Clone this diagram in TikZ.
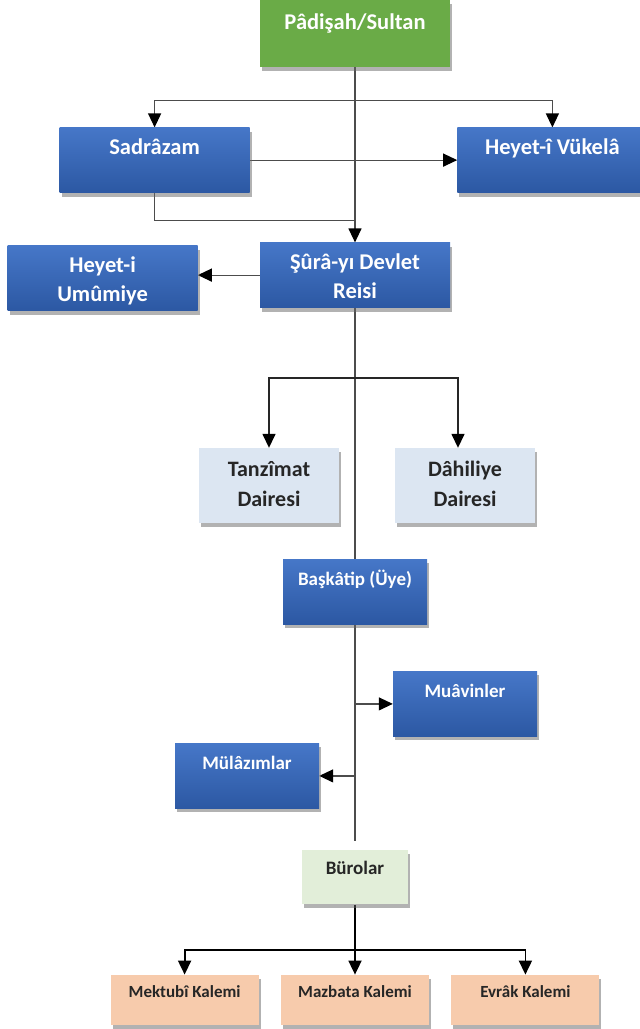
\documentclass[tikz,border=0pt]{standalone}
\usepackage{fontspec}
\setmainfont{Carlito}
\usetikzlibrary{positioning,arrows.meta,shadows,backgrounds}

\definecolor{sultangreen}{HTML}{6AAB47}
\definecolor{boxbluetop}{HTML}{4677C8}
\definecolor{boxbluebot}{HTML}{2C58A3}
\definecolor{dairefill}{HTML}{DCE6F2}
\definecolor{burofill}{HTML}{E2EED9}
\definecolor{kalemfill}{HTML}{F7CBAC}

\begin{document}
\begin{tikzpicture}[%
    x=1pt, y=-1pt,
    >={Triangle[length=14pt,width=13pt,color=black]},
    node distance=60pt,
    box/.style={%
      rectangle,
      inner sep=0pt,
      align=center,
      drop shadow={shadow xshift=2pt,shadow yshift=-4pt,fill=black!60,opacity=.5}
    },
    greenbox/.style={%
      box,
      fill=sultangreen,
      text=white,
      minimum width=190pt,
      text height=29pt,
      text depth=38pt,
      font=\bfseries\fontsize{22.5}{29}\selectfont
    },
    bluebox/.style={%
      box,
      top color=boxbluetop,
      bottom color=boxbluebot,
      text=white,
      minimum width=190pt,
      text height=27pt,
      text depth=38pt,
      font=\bfseries\fontsize{22.5}{29}\selectfont
    },
    bluetwo/.style={%
      bluebox,
      text height=56pt,
      text depth=9pt
    },
    midbox/.style={%
      bluebox,
      minimum width=144pt,
      text height=26pt,
      text depth=39pt,
      font=\bfseries\fontsize{19}{24}\selectfont
    },
    dairebox/.style={%
      box,
      fill=dairefill,
      text=black!85,
      minimum width=140pt,
      text height=58pt,
      text depth=17pt,
      font=\bfseries\fontsize{22}{30}\selectfont
    },
    burobox/.style={%
      box,
      fill=burofill,
      text=black!85,
      minimum width=106pt,
      text height=24pt,
      text depth=30pt,
      font=\bfseries\fontsize{19}{24}\selectfont
    },
    kalembox/.style={%
      box,
      fill=kalemfill,
      text=black!85,
      minimum width=148pt,
      text height=23pt,
      text depth=27pt,
      font=\bfseries\fontsize{17}{20}\selectfont
    },
    link/.style={draw=black!70, line width=1.2pt},
    darklink/.style={draw=black!85, line width=1.5pt},
    boldlink/.style={draw=black, line width=1.8pt}
  ]
    \path[use as bounding box] (0,0) rectangle (640,1029);

    \node[greenbox, anchor=north] (sultan) at (355,0)         {Pâdişah/Sultan};
    \node[bluebox] (sadr)     [below left=60pt and 10pt of sultan]  {Sadrâzam};
    \node[bluebox] (vukela)   [below right=60pt and 7pt of sultan]  {Heyet-î Vükelâ};
    \node[bluetwo] (sura)     [below=175pt of sultan]               {Şûrâ-yı Devlet\\Reisi};
    \node[bluetwo] (umumiye)  [left=62pt of sura, yshift=-3pt]      {Heyet-i\\Umûmiye};
    \node[dairebox] (tanzimat) [below=140pt of sura, xshift=-86pt]  {Tanzîmat\\Dairesi};
    \node[dairebox] (dahiliye) [below=140pt of sura, xshift=110pt]  {Dâhiliye\\Dairesi};
    \node[midbox] (baskatip)  [below=251pt of sura]                 {Başkâtip (Üye)};
    \node[midbox] (muavin)    [below=47pt of baskatip, xshift=110pt]  {Muâvinler};
    \node[midbox] (mulazim)   [below=119pt of baskatip, xshift=-108pt] {Mülâzımlar};
    \node[burobox] (buro)     [below=226pt of baskatip]             {Bürolar};
    \node[kalembox] (mazbata) [below=70pt of buro]                  {Mazbata Kalemi};
    \node[kalembox] (mektubi) [left=22pt of mazbata]                {Mektubî Kalemi};
    \node[kalembox] (evrak)   [right=22pt of mazbata]               {Evrâk Kalemi};

    \coordinate[below=33pt of sultan] (fork1);
    \coordinate[above=22pt of sura] (join1);
    \coordinate[below=70pt of sura] (fork2);
    \coordinate[above=9pt of buro] (spineend);
    \coordinate[below=45pt of buro] (fork3);

    \begin{scope}[on background layer]
      \draw[link,->] (sultan.south) -- (sura.north);
      \draw[link,->] (fork1) -| (sadr.north);
      \draw[link,->] (fork1) -| (vukela.north);
      \draw[link,->] (sadr.east) -- (vukela.west);
      \draw[link] (sadr.south) |- (join1);
      \draw[link,->] (sura.west) -- (sura.west -| umumiye.east);
      \draw[link] (sura.south) -- (spineend);
      \draw[darklink,->] (fork2) -| (tanzimat.north);
      \draw[darklink,->] (fork2) -| ([xshift=-7pt]dahiliye.north);
      \draw[link,->] (muavin.west -| sura.south) -- (muavin.west);
      \draw[link,->] (mulazim.east -| sura.south) -- (mulazim.east);
      \draw[boldlink] (buro.south) -- (fork3);
      \draw[boldlink,->] (fork3) -| (mektubi.north);
      \draw[boldlink,->] (fork3) -- (mazbata.north);
      \draw[boldlink,->] (fork3) -| (evrak.north);
    \end{scope}
  \end{tikzpicture}
\end{document}
